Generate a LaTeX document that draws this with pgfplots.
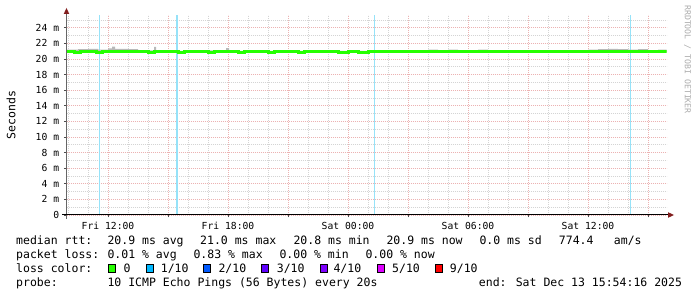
\documentclass[border=0pt]{standalone}
\usepackage{pgfplots}
\pgfplotsset{compat=1.18}
\usepackage{fontspec}
\setmainfont{DejaVu Sans Mono}
\definecolor{mgrid}{RGB}{236,178,178}
\definecolor{ggrid}{RGB}{212,212,212}
\definecolor{unk}{RGB}{150,226,248}
\definecolor{smoke}{RGB}{185,185,185}
\definecolor{arrowred}{RGB}{130,30,30}
\definecolor{lz}{HTML}{26FF00}
\definecolor{la}{HTML}{00B8FF}
\definecolor{lb}{HTML}{0059FF}
\definecolor{lc}{HTML}{5E00FF}
\definecolor{ld}{HTML}{7E00FF}
\definecolor{le}{HTML}{DD00FF}
\definecolor{lf}{HTML}{FF0000}
\newcommand\lfont{\fontsize{11.5bp}{14bp}\selectfont}
\newcommand\tfont{\fontsize{9.7bp}{12bp}\selectfont}
\begin{document}
\begin{tikzpicture}
\path[use as bounding box] (0bp,0bp) rectangle (697bp,297bp);
\begin{axis}[
  at={(66.5bp,82bp)}, anchor=south west,
  width=600bp, height=200bp, scale only axis,
  xmin=9.925, xmax=39.925, ymin=0, ymax=25.64,
  axis line style={draw=none},
  xtick={12,15,18,21,24,27,30,33,36,39},
  xticklabels={Fri 12:00,,Fri 18:00,,Sat 00:00,,Sat 06:00,,Sat 12:00,},
  minor xtick={10,11,...,39},
  ytick={0,2,...,24},
  yticklabels={0,2 m,4 m,6 m,8 m,10 m,12 m,14 m,16 m,18 m,20 m,22 m,24 m},
  minor ytick={1,3,...,25},
  grid=both,
  major grid style={draw=mgrid, line width=0.7bp, dash pattern=on 1bp off 1bp},
  minor grid style={draw=ggrid, line width=0.7bp, dash pattern=on 1bp off 1bp},
  tick pos=left, tick align=outside,
  major tick length=2.5bp, minor tick length=0bp,
  tick style={black!70, line width=0.7bp},
  xticklabel style={font=\tfont, anchor=north, inner sep=0pt, yshift=-4.5bp},
  yticklabel style={font=\tfont, anchor=east, inner sep=0pt, xshift=-4.7bp},
  ylabel={Seconds},
  every axis y label/.style={at={(rel axis cs:-0.0925,0.5)}, rotate=90, anchor=center, font=\lfont},
  /pgf/number format/assume math mode=true,
]
% unknown-data markers
\addplot[unk, line width=1bp] coordinates {(11.55,0) (11.55,25.64)};
\addplot[unk, line width=2bp] coordinates {(15.45,0) (15.45,25.64)};
\addplot[unk, line width=1bp] coordinates {(25.3,0) (25.3,25.64)};
\addplot[unk, line width=1bp] coordinates {(38.1,0) (38.1,25.64)};
% smoke
\addplot[const plot, fill=smoke, draw=none] coordinates {
(9.925,20.85) (9.925,21.2) (10.5,21.25) (11,21.3) (11.5,21.2) (12,21.35) (12.2,21.6) (12.35,21.3)
(12.5,21.3) (13,21.25) (13.5,21.15) (14,21.1) (14.3,21.55) (14.4,21.1) (14.5,21.05) (15,21.1)
(15.5,21.05) (16,21.1) (16.5,21.05) (17,21.1) (17.5,21.05) (17.9,21.4) (18.05,21.1) (18.5,21.05)
(19,21.1) (19.5,21.05) (20,21.05) (20.5,21.1) (21,21.05) (21.5,21.05) (22,21.05) (22.5,21.1)
(23,21.05) (23.5,21.05) (24,21.05) (24.5,21.05) (25,21.1) (25.5,21.05) (26,21.1) (26.5,21.05)
(27,21.1) (27.5,21.15) (28,21.2) (28.5,21.15) (29,21.2) (29.5,21.15) (30,21.15) (30.5,21.2)
(31,21.15) (31.5,21.1) (32,21.15) (32.5,21.1) (33,21.05) (33.5,21.05) (34,21.1) (34.5,21.05)
(35,21.1) (35.5,21.05) (36,21.2) (36.5,21.25) (37,21.3) (37.5,21.25) (38,21.2) (38.5,21.25)
(39,21.15) (39.5,21.2) (39.925,21.2) (39.925,20.85)};
% median rtt
\addplot[const plot, lz, line width=3bp] coordinates {
(9.925,20.92) (10.3,20.88) (10.6,20.92) (11,20.92) (11.4,20.88) (11.7,20.92) (12,20.96) (12.5,20.96)
(13,20.92) (13.5,20.92) (14,20.88) (14.3,20.92) (15,20.92) (15.5,20.88) (15.8,20.92) (16.5,20.92)
(17,20.88) (17.3,20.92) (18,20.92) (18.5,20.88) (18.8,20.92) (19.5,20.92) (20,20.88) (20.3,20.92)
(21,20.92) (21.5,20.88) (21.8,20.92) (22.5,20.9) (23,20.9) (23.5,20.88) (24,20.9) (24.5,20.88)
(25,20.9) (25.5,20.9) (26,20.92) (26.5,20.92) (27,20.92) (27.5,20.94) (28,20.94) (28.5,20.92)
(29,20.94) (29.5,20.92) (30,20.92) (30.5,20.94) (31,20.92) (31.5,20.92) (32,20.9) (32.5,20.92)
(33,20.9) (33.5,20.9) (34,20.92) (34.5,20.9) (35,20.9) (35.5,20.92) (36,20.92) (36.5,20.94)
(37,20.92) (37.5,20.94) (38,20.92) (38.5,20.9) (39,20.92) (39.5,20.92) (39.925,20.92)};
\end{axis}
% axes with arrows
\draw[line width=1bp, black!60] (66.5bp,78bp) -- (66.5bp,285bp);
\fill[arrowred] (66.5bp,289bp) -- (63.7bp,283bp) -- (69.3bp,283bp) -- cycle;
\draw[line width=1bp, black] (62bp,82bp) -- (669bp,82bp);
\fill[arrowred] (674bp,82bp) -- (668bp,84.8bp) -- (668bp,79.2bp) -- cycle;
% watermark
\node[rotate=-90, anchor=west, inner sep=0pt, text=black!33, font=\fontsize{8.2bp}{10bp}\selectfont] at (687.5bp,292bp) {RRDTOOL / TOBI OETIKER};
% legend
\begin{scope}[every node/.style={anchor=base west, inner sep=0pt, font=\lfont}]
\node at (16bp,52.3bp) {median rtt:};
\node at (107.3bp,52.3bp) {20.9 ms avg};
\node at (200bp,52.3bp) {21.0 ms max};
\node at (293.3bp,52.3bp) {20.8 ms min};
\node at (386.3bp,52.3bp) {20.9 ms now};
\node at (479.3bp,52.3bp) {0.0 ms sd};
\node at (558.7bp,52.3bp) {774.4};
\node at (613.7bp,52.3bp) {am/s};
\node at (16bp,38.3bp) {packet loss:};
\node at (107.3bp,38.3bp) {0.01 \% avg};
\node at (193.3bp,38.3bp) {0.83 \% max};
\node at (279.3bp,38.3bp) {0.00 \% min};
\node at (365.3bp,38.3bp) {0.00 \% now};
\node at (16bp,24.3bp) {loss color:};
\node at (123.3bp,24.3bp) {0};
\node at (160.7bp,24.3bp) {1/10};
\node at (218.3bp,24.3bp) {2/10};
\node at (276.7bp,24.3bp) {3/10};
\node at (333.3bp,24.3bp) {4/10};
\node at (392bp,24.3bp) {5/10};
\node at (449.7bp,24.3bp) {9/10};
\node at (16bp,10.3bp) {probe:};
\node at (107.3bp,10.3bp) {10 ICMP Echo Pings (56 Bytes) every 20s};
\node at (478.7bp,10.3bp) {end: Sat Dec 13 15:54:16 2025};
\end{scope}
\foreach \bx/\bc in {108.7/lz,146/la,203.3/lb,261.7/lc,320/ld,377.7/le,435.3/lf}{
  \filldraw[fill=\bc, draw=black, line width=0.8bp] (\bx bp,25bp) rectangle ++(7bp,8bp);
}
\end{tikzpicture}
\end{document}
